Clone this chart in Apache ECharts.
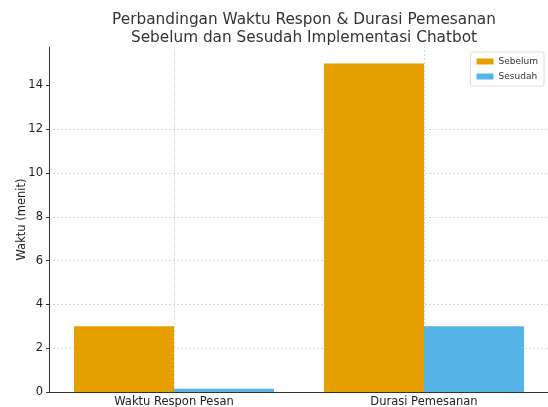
<!DOCTYPE html>
<html><head><meta charset="utf-8">
<script src="https://cdn.jsdelivr.net/npm/echarts@6/dist/echarts.min.js"></script>
<style>html,body{margin:0;padding:0;background:#fff}#c{width:548px;height:407px}</style>
</head><body><div id="c"></div>
<script>
const categories = ['Waktu Respon Pesan', 'Durasi Pemesanan'];
const sebelum = [3, 15];
const sesudah = [0.15, 3];
const yTicks = [0, 2, 4, 6, 8, 10, 12, 14];
const titleText = 'Perbandingan Waktu Respon & Durasi Pemesanan\nSebelum dan Sesudah Implementasi Chatbot';
const yName = 'Waktu (menit)';

const font = 'DejaVu Sans';
const chart = echarts.init(document.getElementById('c'), null, {renderer: 'canvas'});
chart.setOption({
  animation: false,
  textStyle: {fontFamily: font},
  title: {
    text: titleText, left: 299, top: 6, textAlign: 'center',
    textStyle: {fontFamily: font, fontSize: 15.3, fontWeight: 'normal', color: '#333', lineHeight: 18}
  },
  legend: {
    right: 4, top: 52, orient: 'vertical', itemWidth: 17, itemHeight: 6, itemGap: 6,
    padding: [5, 6, 5, 6], borderColor: '#ddd', borderWidth: 1, borderRadius: 2,
    icon: 'rect',
    textStyle: {fontFamily: font, fontSize: 9, color: '#333'},
    data: ['Sebelum', 'Sesudah']
  },
  grid: {left: 49, top: 47, width: 500, bottom: 15, containLabel: false, outerBoundsMode: 'none'},
  xAxis: {
    type: 'category', data: categories,
    axisLine: {lineStyle: {color: '#333', width: 1}},
    axisTick: {show: false},
    axisLabel: {fontFamily: font, fontSize: 11.5, color: '#222', margin: 4},
    splitLine: {show: false}
  },
  yAxis: {
    type: 'value', min: 0, max: 15.75, interval: 2,
    name: yName, nameLocation: 'middle', nameGap: 21, nameMoveOverlap: false,
    nameTextStyle: {fontFamily: font, fontSize: 11.5, color: '#222'},
    axisLine: {show: true, lineStyle: {color: '#333', width: 1}},
    axisTick: {show: true, length: 3, lineStyle: {color: '#333'}, customValues: yTicks},
    axisLabel: {fontFamily: font, fontSize: 11.5, color: '#222', margin: 6, customValues: yTicks},
    splitLine: {show: true, showMaxLine: false, showMinLine: false,
      lineStyle: {color: '#ccc', type: [2, 2], width: 0.8}}
  },
  series: [
    {name: 'grid', type: 'line', data: [], z: 0, silent: true,
     markLine: {silent: true, symbol: 'none', label: {show: false}, z: 0,
       lineStyle: {color: '#ccc', type: [2, 2], width: 0.8},
       data: categories.map(c => ({xAxis: c}))}},
    {name: 'Sebelum', type: 'bar', data: sebelum, barWidth: '40%', barGap: '0%', z: 3,
     itemStyle: {color: '#E69F00'}},
    {name: 'Sesudah', type: 'bar', data: sesudah, barWidth: '40%', barGap: '0%', z: 3,
     itemStyle: {color: '#56B4E9'}}
  ]
});
</script></body></html>
